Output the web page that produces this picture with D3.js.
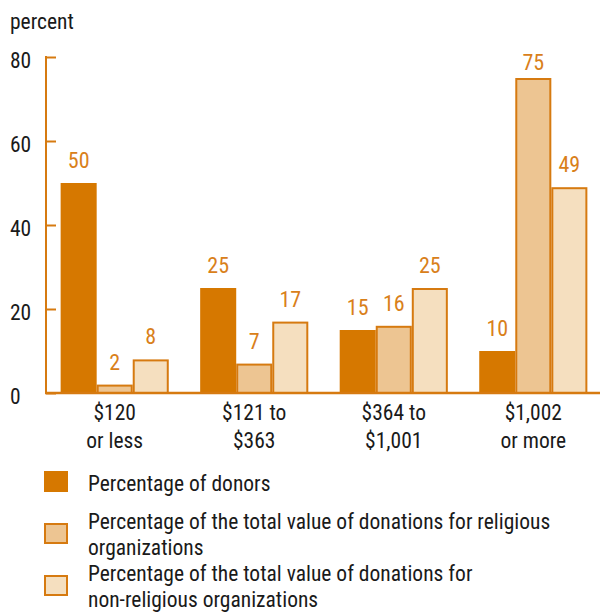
<!DOCTYPE html>
<html><head><meta charset="utf-8">
<script src="https://cdn.jsdelivr.net/npm/d3@7"></script>
<style>
body{margin:0;background:#fff;}
text{font-family:"Roboto Condensed",Roboto,"Liberation Sans",sans-serif;}
</style></head>
<body><svg id="c" width="600" height="615"></svg>
<script>
const categories = [["$120","or less"],["$121 to","$363"],["$364 to","$1,001"],["$1,002","or more"]];
const seriesNames = ["Percentage of donors","Percentage of the total value of donations for religious organizations","Percentage of the total value of donations for non-religious organizations"];
const legendLines = [["Percentage of donors"],["Percentage of the total value of donations for religious","organizations"],["Percentage of the total value of donations for","non-religious organizations"]];
const donors = [50,25,15,10];
const religious = [2,7,16,75];
const nonReligious = [8,17,25,49];
const yTicks = [0,20,40,60,80];

const series = [donors, religious, nonReligious];
const fills = ["#d67800","#edc592","#f5dfbf"];
const stroke = "#d67a10";
const labelColor = "#d9801a";
const FS = 21.5;

const svg = d3.select("#c");
const x0 = d3.scaleBand().domain(d3.range(categories.length)).range([45,603]).paddingInner(0.225).paddingOuter(0.112);
const x1 = d3.scaleBand().domain(d3.range(series.length)).range([0,x0.bandwidth()]);
const y = d3.scaleLinear().domain([0,80]).range([393,57]);

// y axis
const yAxis = d3.axisRight(y).tickValues(yTicks).tickSize(10).tickFormat("");
const ga = svg.append("g").attr("transform","translate(46,0)").call(yAxis);
ga.select(".domain").remove();
ga.selectAll(".tick line").attr("stroke",stroke).attr("stroke-width",2);
svg.append("line").attr("x1",46).attr("x2",46).attr("y1",y(80)-1).attr("y2",y(0)).attr("stroke",stroke).attr("stroke-width",2);
svg.selectAll(".ylab").data(yTicks).join("text").attr("x",10).attr("y",d=>y(d)+10.5)
  .attr("font-size",FS).attr("fill","#1a1a1a").text(d=>d);
svg.append("text").attr("x",10).attr("y",29).attr("font-size",FS).attr("fill","#1a1a1a").text("percent");

// bars
categories.forEach((c,i)=>{
  series.forEach((s,j)=>{
    const bx = x0(i)+x1(j), bw = x1.bandwidth();
    const v = s[i];
    svg.append("rect").attr("x",bx+(j?1:0)).attr("y",y(v)+(j?1:0)).attr("width",bw-(j?2:0)).attr("height",Math.max(0,y(0)-y(v)-(j?1:0)))
      .attr("fill",fills[j]).attr("stroke",j?stroke:"none").attr("stroke-width",2);
    svg.append("text").attr("x",bx+bw/2).attr("y",Math.max(y(v)-15, 70)).attr("text-anchor","middle")
      .attr("font-size",FS+0.5).attr("fill",labelColor).text(v);
  });
  c.forEach((line,k)=>{
    svg.append("text").attr("x",x0(i)+x0.bandwidth()/2).attr("y",420+k*28).attr("text-anchor","middle")
      .attr("font-size",FS).attr("fill","#1a1a1a").text(line);
  });
});
// x axis
svg.append("line").attr("x1",45).attr("x2",600).attr("y1",y(0)).attr("y2",y(0)).attr("stroke",stroke).attr("stroke-width",2.5);

// legend
const legY = [471,523,575];
legendLines.forEach((lines,j)=>{
  svg.append("rect").attr("x",j?45:44).attr("y",legY[j]+(j?1:0)).attr("width",j?22:24).attr("height",j?19:21)
    .attr("fill",fills[j]).attr("stroke",j?stroke:"none").attr("stroke-width",2);
  lines.forEach((l,k)=>{
    svg.append("text").attr("x",88).attr("y",(j===0?491:legY[j]+6)+k*26).attr("font-size",FS).attr("fill","#1a1a1a").text(l);
  });
});
</script></body></html>
